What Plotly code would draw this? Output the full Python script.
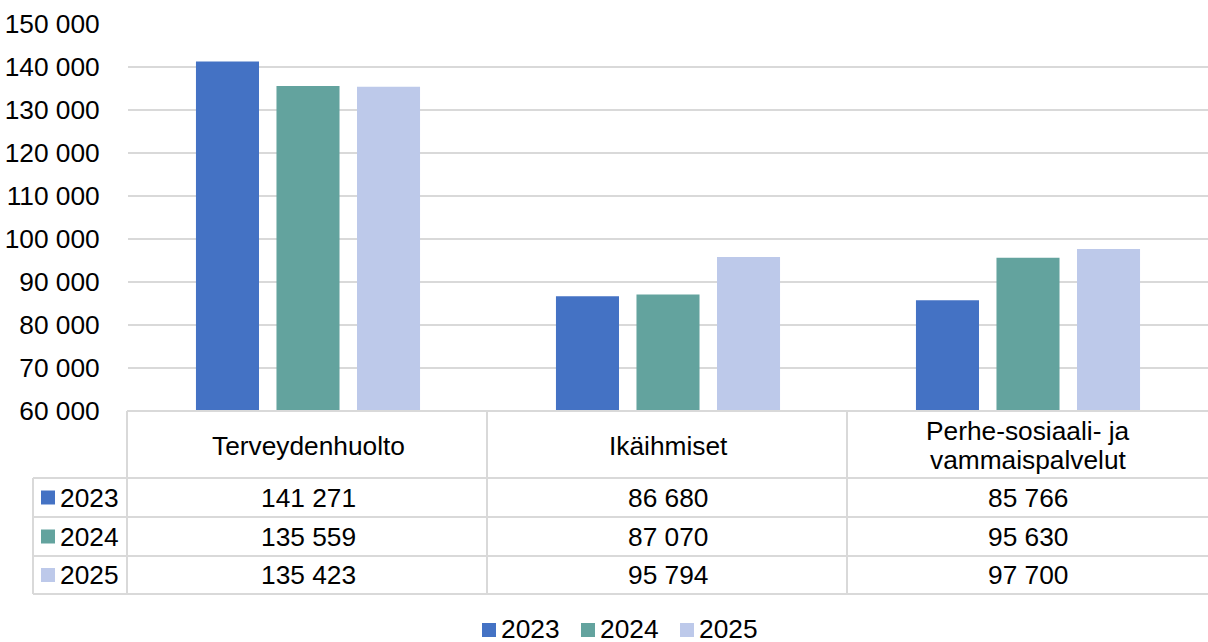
import plotly.graph_objects as go

# Data
categories = ["Terveydenhuolto", "Ikäihmiset", "Perhe-sosiaali- ja vammaispalvelut"]
header_lines = [["Terveydenhuolto"], ["Ikäihmiset"], ["Perhe-sosiaali- ja", "vammaispalvelut"]]
years = ["2023", "2024", "2025"]
values_2023 = [141271, 86680, 85766]
values_2024 = [135559, 87070, 95630]
values_2025 = [135423, 95794, 97700]
series = [values_2023, values_2024, values_2025]
colors = ["#4472C4", "#63A39E", "#BDC9EA"]

W, H = 1208, 642
ML, MR, MT, MB = 128, 0, 24, 231
PW, PH = W - ML - MR, H - MT - MB
FONT = "Liberation Sans, Arial, sans-serif"
FS = 26.3
GRID = "#D9D9D9"


def px(x):
    return (x - ML) / PW


def py(y):
    return (H - MB - y) / PH


def fmt(v):
    return f"{v:,}".replace(",", " ")


fig = go.Figure()
for name, vals, col in zip(years, series, colors):
    fig.add_trace(go.Bar(x=categories, y=vals, name=name, marker=dict(color=col, line=dict(width=0)),
                         showlegend=False, hoverinfo="x+y+name"))

shapes = []
annotations = []

# Data table grid
line = dict(color=GRID, width=2)
table_top, header_bot = 411, 478
row_bounds = [478, 517, 556, 594]
key_left = 33
shapes.append(dict(type="line", xref="paper", yref="paper", x0=px(ML - 1), x1=1, y0=py(table_top), y1=py(table_top), line=line))
for yb in row_bounds:
    shapes.append(dict(type="line", xref="paper", yref="paper", x0=px(key_left), x1=1, y0=py(yb), y1=py(yb), line=line))
for i in range(len(categories)):
    xl = ML - 1 + i * PW / len(categories)
    shapes.append(dict(type="line", xref="paper", yref="paper", x0=px(xl), x1=px(xl), y0=py(table_top), y1=py(row_bounds[-1]), line=line))
shapes.append(dict(type="line", xref="paper", yref="paper", x0=px(key_left), x1=px(key_left), y0=py(row_bounds[0]), y1=py(row_bounds[-1]), line=line))

# Header cells
for cat, lines in zip(categories, header_lines):
    if len(lines) == 1:
        ys = [(table_top + header_bot) / 2 + 1]
    else:
        ys = [431, 460]
    for txt, yc in zip(lines, ys):
        annotations.append(dict(x=cat, xref="x", y=py(yc), yref="paper", text=txt, showarrow=False,
                                xanchor="center", yanchor="middle", font=dict(family=FONT, size=FS, color="#000000")))

# Value rows with legend keys
for r, (name, vals, col) in enumerate(zip(years, series, colors)):
    yc = (row_bounds[r] + row_bounds[r + 1]) / 2
    shapes.append(dict(type="rect", xref="paper", yref="paper", x0=px(41), x1=px(55), y0=py(yc - 7), y1=py(yc + 7),
                       fillcolor=col, line=dict(width=0)))
    annotations.append(dict(x=px(58), xref="paper", y=py(yc), yref="paper", text=name, showarrow=False,
                            xanchor="left", yanchor="middle", font=dict(family=FONT, size=FS, color="#000000")))
    for cat, v in zip(categories, vals):
        annotations.append(dict(x=cat, xref="x", y=py(yc), yref="paper", text=fmt(v), showarrow=False,
                                xanchor="center", yanchor="middle", font=dict(family=FONT, size=FS, color="#000000")))

# Bottom legend
legend_x = [482, 581, 680]
legend_y = 629
for name, col, lx in zip(years, colors, legend_x):
    shapes.append(dict(type="rect", xref="paper", yref="paper", x0=px(lx), x1=px(lx + 14), y0=py(legend_y - 6),
                       y1=py(legend_y + 8), fillcolor=col, line=dict(width=0)))
    annotations.append(dict(x=px(lx + 17), xref="paper", y=py(legend_y), yref="paper", text=name, showarrow=False,
                            xanchor="left", yanchor="middle", font=dict(family=FONT, size=FS, color="#000000")))

fig.update_layout(
    width=W, height=H,
    margin=dict(l=ML, r=MR, t=MT, b=MB, pad=0),
    paper_bgcolor="white", plot_bgcolor="white",
    barmode="group", bargap=0.329, bargroupgap=0.217,
    separators=", ",
    font=dict(family=FONT, size=FS, color="#000000"),
    showlegend=False,
    shapes=shapes, annotations=annotations,
    xaxis=dict(showticklabels=False, showgrid=False, zeroline=False, showline=False, ticks=""),
    yaxis=dict(range=[60000, 150000], dtick=10000, tickformat=",d", showgrid=True, gridcolor=GRID, gridwidth=1.5,
               zeroline=False, showline=False, ticks="outside", ticklen=22, tickcolor="rgba(0,0,0,0)",
               tickfont=dict(family=FONT, size=FS, color="#000000")),
)

fig.write_html("out.html")
